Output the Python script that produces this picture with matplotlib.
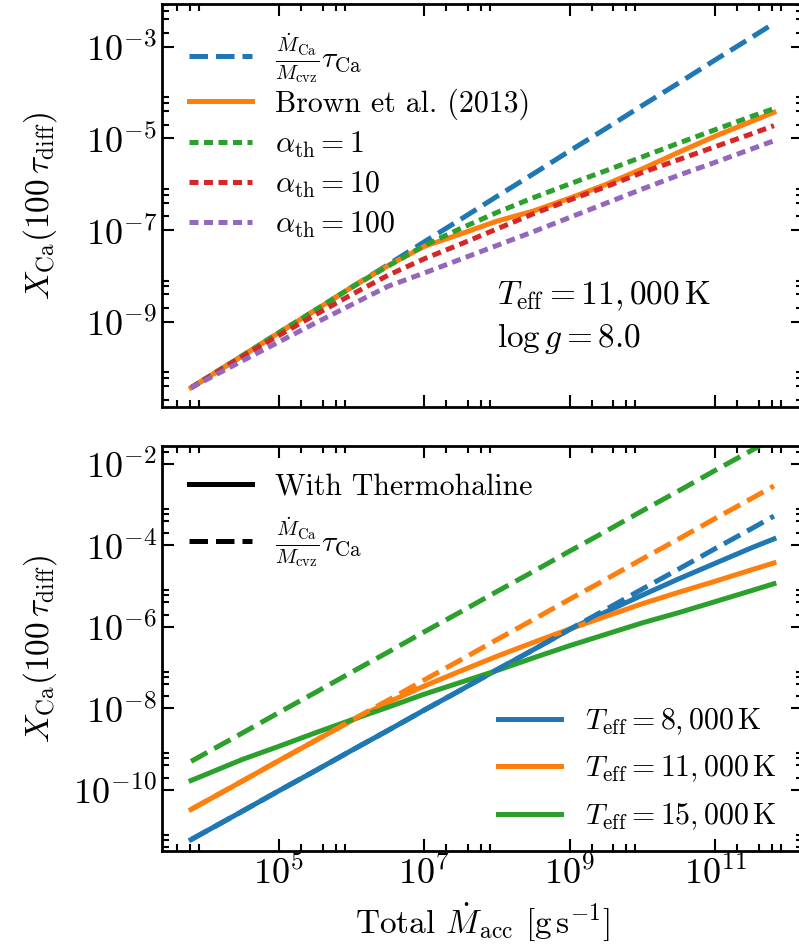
import numpy as np
import matplotlib
matplotlib.use('Agg')
import matplotlib.pyplot as plt
from matplotlib.lines import Line2D
from matplotlib.ticker import FixedLocator, NullFormatter

plt.rcParams['font.family'] = 'serif'
plt.rcParams['font.serif'] = ['cmr10']
plt.rcParams['mathtext.fontset'] = 'cm'
plt.rcParams['axes.formatter.use_mathtext'] = True
plt.rcParams['axes.unicode_minus'] = False

# log10 of total accretion rate [g/s]
log_mdot = np.array([3.79, 4.5, 5.0, 5.5, 6.0, 6.5, 7.0, 7.5, 8.0, 8.5,
                     9.0, 9.5, 10.0, 10.5, 11.0, 11.5, 11.81])

# top panel, Teff = 11000 K, log g = 8 (log10 X_Ca)
top_simple = [-10.43, -9.73, -9.23, -8.74, -8.24, -7.75, -7.25, -6.76, -6.26,
              -5.77, -5.27, -4.78, -4.28, -3.79, -3.29, -2.80, -2.49]
top_brown = [-10.43, -9.73, -9.23, -8.74, -8.24, -7.77, -7.35, -7.08, -6.80,
             -6.58, -6.30, -6.00, -5.66, -5.30, -4.95, -4.63, -4.43]
top_a1 = [-10.43, -9.73, -9.23, -8.74, -8.24, -7.78, -7.33, -6.96, -6.61,
          -6.29, -5.99, -5.70, -5.40, -5.10, -4.81, -4.52, -4.35]
top_a10 = [-10.43, -9.75, -9.29, -8.84, -8.40, -7.98, -7.62, -7.30, -6.97,
           -6.64, -6.34, -6.05, -5.74, -5.46, -5.18, -4.90, -4.72]
top_a100 = [-10.43, -9.84, -9.43, -9.02, -8.62, -8.22, -7.93, -7.63, -7.33,
            -7.03, -6.72, -6.41, -6.10, -5.80, -5.52, -5.23, -5.05]

# bottom panel (log10 X_Ca): with thermohaline (solid) and simple estimate (dashed)
teff_labels = ['8,000', '11,000', '15,000']
bot_thermo = [
    [-11.22, -10.52, -10.02, -9.53, -9.03, -8.54, -8.04, -7.55, -7.05,
     -6.56, -6.06, -5.63, -5.22, -4.82, -4.44, -4.06, -3.84],
    [-10.48, -9.78, -9.28, -8.79, -8.30, -7.85, -7.45, -7.08, -6.72,
     -6.38, -6.05, -5.74, -5.43, -5.15, -4.88, -4.60, -4.43],
    [-9.77, -9.25, -8.93, -8.60, -8.28, -7.97, -7.65, -7.36, -7.07,
     -6.76, -6.46, -6.18, -5.90, -5.65, -5.38, -5.11, -4.94],
]
bot_simple = [
    [-11.22, -10.52, -10.02, -9.53, -9.03, -8.54, -8.04, -7.55, -7.05,
     -6.56, -6.06, -5.57, -5.07, -4.58, -4.08, -3.59, -3.28],
    [-10.48, -9.78, -9.28, -8.79, -8.29, -7.80, -7.30, -6.81, -6.31,
     -5.82, -5.32, -4.83, -4.33, -3.84, -3.34, -2.85, -2.54],
    [-9.30, -8.60, -8.10, -7.61, -7.11, -6.62, -6.12, -5.63, -5.13,
     -4.64, -4.14, -3.65, -3.15, -2.66, -2.16, -1.67, -1.36],
]

xlim = (10**3.39, 10**12.21)
ylim_top = (10**-10.85, 10**-2.07)
ylim_bot = (10**-11.5, 10**-1.56)

mdot = 10**log_mdot
colors = ['C0', 'C1', 'C2']
lw = 3.6
dot = (0, (1.8, 1.1))

simple_lab = r'$\frac{\dot{M}_{\rm Ca}}{M_{\rm cvz}}\tau_{\rm Ca}$'
ylab = r'$X_{\rm Ca}(100\,\tau_{\rm diff})$'
fs = 21.5
tfs = 26
lfs = 24

fig = plt.figure(figsize=(7.99, 9.52), dpi=100)
W, H = 799., 952.
ax0 = fig.add_axes([162/W, 1-407/H, 641/W, 403/H])
ax1 = fig.add_axes([162/W, 1-851/H, 641/W, 405/H])


def style(ax, ymaj, ymin):
    ax.set_xscale('log')
    ax.set_yscale('log')
    ax.set_xlim(xlim)
    ax.xaxis.set_major_locator(FixedLocator(10.0**np.arange(5, 13, 2)))
    ax.xaxis.set_minor_locator(FixedLocator([m*10.0**e for e in range(3, 13, 2)
                                             for m in (2, 4, 6, 8)]))
    ax.yaxis.set_major_locator(FixedLocator(10.0**ymaj))
    ax.yaxis.set_minor_locator(FixedLocator([m*10.0**e for e in ymin for m in (2, 4, 6, 8)]))
    ax.xaxis.set_minor_formatter(NullFormatter())
    ax.yaxis.set_minor_formatter(NullFormatter())
    ax.tick_params(which='both', direction='in', top=True, right=True, labelsize=tfs)
    ax.tick_params(which='major', length=8.5, width=1.5)
    ax.tick_params(which='minor', length=5, width=1.5)
    for s in ax.spines.values():
        s.set_linewidth(2)
    ax.set_ylabel(ylab, fontsize=lfs)
    ax.yaxis.set_label_coords(-0.16, 0.5)


# top panel
l0, = ax0.plot(mdot, 10**np.array(top_simple), color='C0', ls='--', lw=lw, label=simple_lab)
l1, = ax0.plot(mdot, 10**np.array(top_brown), color='C1', ls='-', lw=lw, label='Brown et al. (2013)')
l2, = ax0.plot(mdot, 10**np.array(top_a1), color='C2', ls=dot, lw=lw, label=r'$\alpha_{\rm th} = 1$')
l3, = ax0.plot(mdot, 10**np.array(top_a10), color='C3', ls=dot, lw=lw, label=r'$\alpha_{\rm th} = 10$')
l4, = ax0.plot(mdot, 10**np.array(top_a100), color='C4', ls=dot, lw=lw, label=r'$\alpha_{\rm th} = 100$')
style(ax0, np.arange(-9, -1, 2), np.arange(-11, -1, 2))
ax0.set_ylim(ylim_top)
ax0.tick_params(labelbottom=False)
legA = ax0.legend([l0], [simple_lab], loc='upper left', frameon=False, fontsize=fs,
                  handlelength=2.1)
ax0.add_artist(legA)
ax0.legend([l1, l2, l3, l4], [l.get_label() for l in (l1, l2, l3, l4)],
           loc='upper left', bbox_to_anchor=(0, 0.857), frameon=False, fontsize=fs,
           handlelength=2.1, labelspacing=0.33)
ax0.text(0.523, 0.22, r'$T_{\rm eff} = 11,000\,{\rm K}$' + '\n' + r'$\log g = 8.0$',
         transform=ax0.transAxes, fontsize=lfs, ha='left', va='center', linespacing=1.3)

# bottom panel
for c, y in zip(colors, bot_thermo):
    ax1.plot(mdot, 10**np.array(y), color=c, ls='-', lw=lw)
for c, y in zip(colors, bot_simple):
    ax1.plot(mdot, 10**np.array(y), color=c, ls='--', lw=lw)
style(ax1, np.arange(-10, 0, 2), np.arange(-12, 0, 2))
ax1.set_ylim(ylim_bot)
ax1.set_xlabel(r'Total $\dot{M}_{\rm acc}$ $[{\rm g\,s^{-1}}]$', fontsize=lfs, labelpad=7)

h1 = [Line2D([], [], color='k', ls='-', lw=lw), Line2D([], [], color='k', ls='--', lw=lw)]
leg1 = ax1.legend(h1, ['With Thermohaline', simple_lab], loc='upper left',
                  frameon=False, fontsize=fs, handlelength=2.1)
ax1.add_artist(leg1)
h2 = [Line2D([], [], color=c, lw=lw) for c in colors]
ax1.legend(h2, [r'$T_{\rm eff} = %s\,{\rm K}$' % t for t in teff_labels],
           loc='lower right', frameon=False, fontsize=fs, bbox_to_anchor=(1.0, -0.02),
           handlelength=2.1, labelspacing=0.55)

fig.savefig('out.png', dpi=100)
